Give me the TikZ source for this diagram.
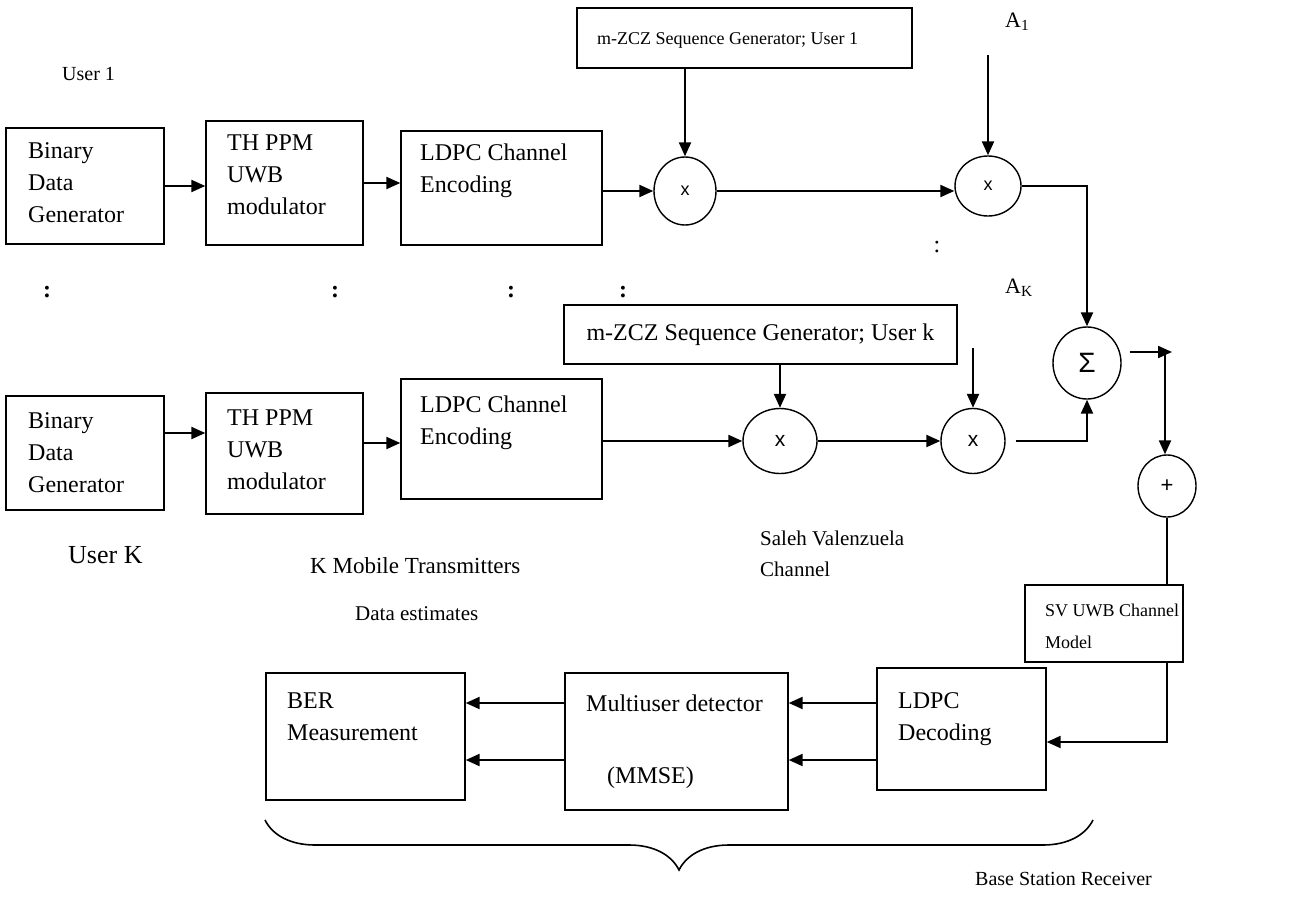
\documentclass[tikz,border=0pt]{standalone}
\usepackage{fontspec}
\setmainfont{Liberation Serif}
\newfontfamily\arialfont{Liberation Sans}
\usetikzlibrary{positioning,arrows.meta,shapes.geometric,decorations.pathreplacing}
\newcommand{\boxfont}{\fontsize{24}{32}\selectfont}
\newcommand{\plainsp}{\spaceskip=0pt\xspaceskip=0pt\relax}

\begin{document}
\begin{tikzpicture}[x=1pt,y=-1pt,
		blk/.style={draw,line width=1.4pt,inner sep=0pt},
		mix/.style={draw,ellipse,line width=1.4pt,inner sep=0pt,font=\arialfont\fontsize{20}{24}\selectfont},
		txt/.style={anchor=base west,inner sep=0pt,text width=260pt,align=left,font=\boxfont,execute at begin node=\plainsp},
		lbl/.style={anchor=base west,inner sep=0pt},
		arr/.style={-{Triangle[length=14pt,width=12pt]},line width=2.2pt},
		wire/.style={line width=1.6pt}]
		\fill[white] (0,0) rectangle (1291,897);
		\useasboundingbox (0,0) rectangle (1291,897);
		% user 1
		\node[blk,minimum width=158pt,minimum height=116pt] (bdg1) at (85,186) {};
		\node[blk,minimum width=157pt,minimum height=124pt] (th1) at (284.5,183) {};
		\node[blk,minimum width=201pt,minimum height=114pt] (ldpc1) at (501.5,188) {};
		\node[txt] (bdg1t) at (28,158) {Binary\\Data\\Generator};
		\node[txt] (th1t) at (227,150) {TH PPM\\UWB\\modulator};
		\node[txt] (ldpc1t) at (420,160) {LDPC Channel\\Encoding};
		\node[blk,minimum width=335pt,minimum height=60pt] (mz1) at (744.5,38) {};
		\node[lbl,font=\fontsize{18}{24}\selectfont] (mz1t) at (597,44) {m-ZCZ Sequence Generator; User 1};
		\node[mix,minimum width=62pt,minimum height=68pt,font=\arialfont\fontsize{18}{22}\selectfont] (x1) at (685,191) {x};
		\node[mix,minimum width=66pt,minimum height=60pt,font=\arialfont\fontsize{18}{22}\selectfont] (x2) at (988,186) {x};
		\coordinate (a1in) at (988,55);
		\node[lbl,font=\fontsize{22}{26}\selectfont] (a1) at (1005,27) {A\textsubscript{1}};
		\node[lbl,font=\fontsize{20}{24}\selectfont] (u1) at (62,80) {User 1};

		\draw[arr] (bdg1.east) -- (bdg1.east -| th1.west);
		\draw[arr] (th1.east) -- (th1.east -| ldpc1.west);
		\draw[arr] (ldpc1.east |- x1.west) -- (x1.west);
		\draw[arr] (mz1.south -| x1.north) -- (x1.north);
		\draw[arr] (x1.east) -- (x1.east -| x2.west);
		\draw[arr] (a1in) -- (x2.north);

		% dots between the users
		\foreach \px/\nm in {47/da,335/db,511/dc,623/dd}
			\node[font=\fontsize{24}{28}\selectfont\bfseries] (\nm) at (\px,292) {:};
		\node[font=\fontsize{24}{28}\selectfont] (dx) at (937,247) {:};
		\node[lbl,font=\fontsize{22}{26}\selectfont] (ak) at (1005,293) {A\textsubscript{K}};

		% user K
		\node[blk,minimum width=158pt,minimum height=114pt] (bdgk) at (85,453) {};
		\node[blk,minimum width=157pt,minimum height=121pt] (thk) at (284.5,453.5) {};
		\node[blk,minimum width=201pt,minimum height=120pt] (ldpck) at (501.5,439) {};
		\node[txt] (bdgkt) at (28,428) {Binary\\Data\\Generator};
		\node[txt] (thkt) at (227,425) {TH PPM\\UWB\\modulator};
		\node[txt] (ldpckt) at (420,412) {LDPC Channel\\Encoding};
		\node[blk,minimum width=393pt,minimum height=59pt] (mzk) at (760.5,334.5) {};
		\node[font=\boxfont] (mzkt) at (mzk) {m-ZCZ Sequence Generator; User k};
		\node[mix,minimum width=74pt,minimum height=65pt,font=\arialfont\fontsize{21}{24}\selectfont] (x3) at (780,441) {x};
		\node[mix,minimum width=64pt,minimum height=65pt,font=\arialfont\fontsize{21}{24}\selectfont] (x4) at (973,441) {x};
		\coordinate (akin) at (973,348);
		\coordinate (ra) at (0,433);
		\coordinate (rb) at (0,443);

		\draw[arr] (bdgk.east |- ra) -- (thk.west |- ra);
		\draw[arr] (thk.east |- rb) -- (ldpck.west |- rb);
		\draw[arr] (ldpck.east |- x3.west) -- (x3.west);
		\draw[arr] (mzk.south -| x3.north) -- (x3.north);
		\draw[arr] (x3.east) -- (x4.west);
		\draw[arr] (akin) -- (x4.north);

		\node[lbl,font=\fontsize{26}{30}\selectfont] (uk) at (68,563) {User K};
		\node[lbl,font=\fontsize{23}{27}\selectfont] (kmt) at (310,573) {K Mobile Transmitters};
		\node[txt,font=\fontsize{21}{31}\selectfont] (svc) at (760,545) {Saleh Valenzuela\\Channel};

		% summing and channel
		\node[mix,minimum width=68pt,minimum height=72pt,font=\arialfont\fontsize{28}{32}\selectfont] (sig) at (1087,363) {Σ};
		\node[mix,minimum width=58pt,minimum height=62pt,font=\arialfont\fontsize{22}{26}\selectfont] (plus) at (1167,486) {+};
		\coordinate (sigout) at (1172,352);
		\coordinate (tee) at (1165,352);
		\draw[arr] (x2.east) -| (sig.north);
		\draw[arr] ([xshift=10pt]x4.east) -| (sig.south);
		\draw[arr] ([xshift=8pt,yshift=11pt]sig.east) -- (sigout);
		\draw[arr] (tee) -- (tee |- plus.north);

		\node[blk,minimum width=158pt,minimum height=77pt] (sv) at (1104,623.5) {};
		\node[txt,font=\fontsize{18}{32}\selectfont] (svt) at (1045,616) {SV UWB Channel\\Model};
		\draw[wire] (plus.south) -- (plus.south |- sv.north);

		% receiver
		\node[blk,minimum width=169pt,minimum height=122pt] (ldpcd) at (961.5,729) {};
		\node[blk,minimum width=223pt,minimum height=137pt] (mud) at (676.5,741.5) {};
		\node[blk,minimum width=199pt,minimum height=127pt] (ber) at (365.5,736.5) {};
		\node[txt] (ldpcdt) at (898,708) {LDPC\\Decoding};
		\node[lbl,font=\boxfont] (mudt) at (586,711) {Multiuser detector};
		\node[lbl,font=\boxfont] (mmse) at (607,783) {(MMSE)};
		\node[txt] (bert) at (287,708) {BER\\Measurement};
		\node[lbl,font=\fontsize{21}{25}\selectfont] (de) at (355,620) {Data estimates};

		\coordinate (rxa) at (0,703);
		\coordinate (rxb) at (0,760);
		\draw[arr] (plus.south |- sv.south) |- ([yshift=-13pt]ldpcd.east);
		\draw[arr] (ldpcd.west |- rxa) -- (mud.east |- rxa);
		\draw[arr] (ldpcd.west |- rxb) -- (mud.east |- rxb);
		\draw[arr] (mud.west |- rxa) -- (ber.east |- rxa);
		\draw[arr] (mud.west |- rxb) -- (ber.east |- rxb);

		\coordinate (brl) at (265,820);
		\coordinate (brr) at (1093,820);
		\draw[wire,decorate,decoration={brace,amplitude=50pt,mirror}] (brl) -- (brr);
		\node[lbl,font=\fontsize{20}{24}\selectfont] (bsr) at (975,885) {Base Station Receiver};
	\end{tikzpicture}
\end{document}
